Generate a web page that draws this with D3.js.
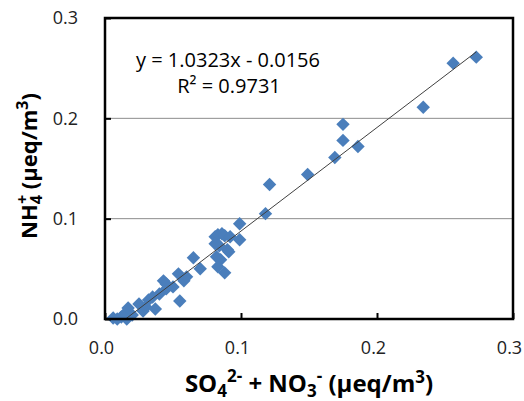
<!DOCTYPE html>
<html><head><meta charset="utf-8">
<script src="https://cdn.jsdelivr.net/npm/d3@7"></script>
<style>body{margin:0;background:#fff}svg{display:block}</style>
</head><body><svg id="c" width="524" height="401"></svg>
<script>
const xValues = [0.006,0.009,0.012,0.015,0.016,0.017,0.020,0.025,0.028,0.030,0.032,0.035,0.037,0.040,0.043,0.045,0.045,0.050,0.055,0.054,0.058,0.060,0.065,0.070,0.081,0.083,0.086,0.088,0.092,0.081,0.084,0.090,0.091,0.082,0.085,0.083,0.088,0.099,0.099,0.118,0.121,0.149,0.169,0.175,0.175,0.186,0.234,0.256,0.273];
const yValues = [0.001,0.000,0.002,0.006,0.000,0.011,0.004,0.015,0.008,0.012,0.019,0.022,0.010,0.025,0.038,0.030,0.035,0.032,0.018,0.045,0.038,0.042,0.061,0.050,0.082,0.084,0.085,0.083,0.082,0.075,0.073,0.069,0.067,0.062,0.059,0.052,0.046,0.095,0.079,0.105,0.134,0.144,0.161,0.194,0.178,0.172,0.211,0.255,0.261];
const tickLabels = ["0.0","0.1","0.2","0.3"];
const tickValues = [0,0.1,0.2,0.3];
const slope = 1.0323, intercept = -0.0156;
const eqText = "y = 1.0323x - 0.0156";
const r2Value = "0.9731";

const svg = d3.select("#c");
const L=105,R=513,T=18,B=319;
const x = d3.scaleLinear().domain([0,0.3]).range([L,R]);
const y = d3.scaleLinear().domain([0,0.3]).range([B,T]);
const font = "'Open Sans', sans-serif";

svg.append("g").selectAll("line").data([0.1,0.2]).join("line")
  .attr("x1",L).attr("x2",R).attr("y1",d=>y(d)).attr("y2",d=>y(d))
  .attr("stroke","#8c8c8c").attr("stroke-width",1);

svg.append("defs").append("clipPath").attr("id","clip")
  .append("rect").attr("x",L).attr("y",T).attr("width",R-L).attr("height",B-T);

const pts = xValues.map((v,i)=>[v,yValues[i]]);
const diamond = d3.symbol().type(d3.symbolDiamond2).size(115);
svg.append("g").selectAll("path").data(pts).join("path")
  .attr("d", diamond)
  .attr("transform", d=>`translate(${x(d[0])},${y(d[1])})`)
  .attr("fill","#4a7ebb");

const xmin = d3.min(xValues), xmax = d3.max(xValues);
svg.append("line").attr("clip-path","url(#clip)")
  .attr("x1",x(xmin)).attr("y1",y(slope*xmin+intercept))
  .attr("x2",x(xmax)).attr("y2",y(slope*xmax+intercept))
  .attr("stroke","#404040").attr("stroke-width",1);

const xAxis = d3.axisBottom(x).tickValues(tickValues).tickSize(-6).tickPadding(22)
  .tickFormat((d,i)=>tickLabels[i]);
const gx = svg.append("g").attr("transform",`translate(0,${B})`).call(xAxis);
const yAxis = d3.axisLeft(y).tickValues(tickValues).tickSize(-6).tickPadding(27)
  .tickFormat((d,i)=>tickLabels[i]);
const gy = svg.append("g").attr("transform",`translate(${L},0)`).call(yAxis);
[gx,gy].forEach(g=>{
  g.select(".domain").remove();
  g.selectAll(".tick line").attr("stroke","#000").attr("stroke-width",2);
  g.selectAll(".tick text").attr("font-family",font).attr("font-size",18).attr("fill","#222");
});
gx.selectAll(".tick text").attr("dy","0.71em").attr("dx",-4);

svg.append("rect").attr("x",L).attr("y",T).attr("width",R-L).attr("height",B-T)
  .attr("fill","none").attr("stroke","#000").attr("stroke-width",2.5);

const eq = svg.append("text").attr("font-family",font).attr("font-size",20).attr("fill","#000").attr("text-anchor","middle");
eq.append("tspan").attr("x",228).attr("y",67).text(eqText);
eq.append("tspan").attr("x",229).attr("y",93).text("R² = " + r2Value);

const xl = svg.append("text").attr("x",(L+R)/2).attr("y",392).attr("text-anchor","middle")
  .attr("font-family",font).attr("font-weight","bold").attr("font-size",24).attr("fill","#000");
xl.append("tspan").text("SO");
xl.append("tspan").attr("font-size",17).attr("dy",5).text("4");
xl.append("tspan").attr("font-size",17).attr("dy",-15).text("2-");
xl.append("tspan").attr("dy",10).text(" + NO");
xl.append("tspan").attr("font-size",17).attr("dy",5).text("3");
xl.append("tspan").attr("font-size",17).attr("dy",-15).text("-");
xl.append("tspan").attr("dy",10).text(" (μeq/m");
xl.append("tspan").attr("font-size",17).attr("dy",-9).text("3");
xl.append("tspan").attr("dy",9).text(")");

const yl = svg.append("text").attr("transform","translate(37,166) rotate(-90)").attr("text-anchor","middle")
  .attr("font-family",font).attr("font-weight","bold").attr("font-size",22).attr("fill","#000");
yl.append("tspan").text("NH");
yl.append("tspan").attr("font-size",16).attr("dy",5).text("4");
yl.append("tspan").attr("font-size",16).attr("dx",-9).attr("dy",-14).text("+");
yl.append("tspan").attr("dy",9).text(" (μeq/m");
yl.append("tspan").attr("font-size",16).attr("dy",-9).text("3");
yl.append("tspan").attr("dy",9).text(")");
</script></body></html>
